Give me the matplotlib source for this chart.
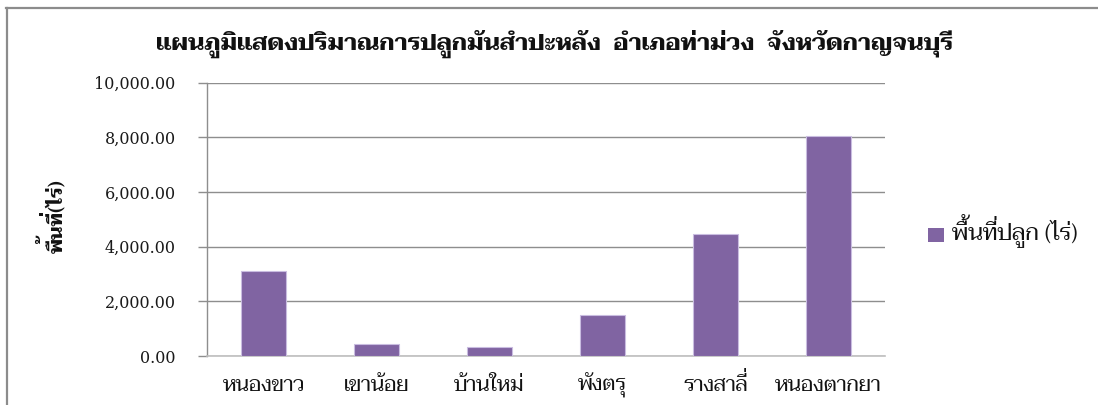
import math
import matplotlib
matplotlib.use("Agg")
import matplotlib.pyplot as plt
from matplotlib import font_manager
from matplotlib.font_manager import FontProperties
from matplotlib.ft2font import FT2Font
from matplotlib.ticker import FuncFormatter, MultipleLocator
from matplotlib.patches import Rectangle

# Planted cassava area by sub-district (rai)
categories = ["หนองขาว", "เขาน้อย", "บ้านใหม่", "พังตรุ", "รางสาลี่", "หนองตากยา"]
area_rai = [3130, 460, 350, 1490, 4470, 8050]
series_name = "พื้นที่ปลูก (ไร่)"
title_text = "แผนภูมิแสดงปริมาณการปลูกมันสำปะหลัง  อำเภอท่าม่วง  จังหวัดกาญจนบุรี"
ylabel_text = "พื้นที่(ไร่)"

W, H, DPI = 1098, 405, 100

installed = {f.name for f in font_manager.fontManager.ttflist}
THAI = next((n for n in ["Taviraj", "Trirong", "Sarabun", "Noto Serif Thai",
                         "Pridi", "Noto Sans Thai"] if n in installed), "DejaVu Sans")
thai_family = [THAI, "DejaVu Serif"]
num_family = ["DejaVu Serif"]

TONE_MARKS = "\u0e48\u0e49\u0e4a\u0e4b"
UPPER_VOWELS = "\u0e31\u0e34\u0e35\u0e36\u0e37\u0e47\u0e4d"


def pen_advance(text, size, weight):
    """Horizontal pen advance (pixels) of text in the Thai face."""
    path = font_manager.findfont(FontProperties(family=THAI, weight=weight))
    font = FT2Font(path)
    font.set_size(size, DPI)
    x = 0.0
    for ch in text:
        g = font.load_char(ord(ch))
        x += g.linearHoriAdvance / 65536
    return x


def thai_text(fig, x, y, s, size, weight="normal", ha="left", rotation=0,
              rise=0.0, color="#111111"):
    """Draw Thai text at (x, y) pixel baseline, stacking tone marks above
    upper vowels (which a non-shaping renderer would otherwise overlap)."""
    base, marks = "", []
    for ch in s:
        if ch in TONE_MARKS and base and base[-1] in UPPER_VOWELS:
            marks.append((base, ch))
        else:
            base += ch
    th = math.radians(rotation)
    ux, uy = math.cos(th), math.sin(th)
    nx, ny = -math.sin(th), math.cos(th)
    w = pen_advance(base, size, weight)
    shift = {"left": 0.0, "center": w / 2, "right": w}[ha]
    ax0, ay0 = x - shift * ux, y - shift * uy
    kw = dict(fontsize=size, fontweight=weight, family=thai_family,
              color=color, ha="left", va="baseline", rotation=rotation,
              rotation_mode="anchor")
    fig.text(ax0 / W, ay0 / H, base, **kw)
    sp = pen_advance(" ", size, weight)
    for prefix, mark in marks:
        # a leading space gives the lone mark a measurable width
        p = pen_advance(prefix, size, weight) - sp
        mx = ax0 + p * ux + rise * nx
        my = ay0 + p * uy + rise * ny
        fig.text(mx / W, my / H, " " + mark, **kw)


fig = plt.figure(figsize=(W / DPI, H / DPI), dpi=DPI)
fig.patch.set_facecolor("white")

# outer chart frame (top and left edges)
fig.add_artist(plt.Line2D([6 / W, 1.0], [1 - 8 / H, 1 - 8 / H],
                          transform=fig.transFigure, color="#8c8c8c", lw=1.6))
fig.add_artist(plt.Line2D([7 / W, 7 / W], [0.0, 1 - 8 / H],
                          transform=fig.transFigure, color="#8c8c8c", lw=1.6))

left, right = 207 / W, 885 / W
top, bottom = 1 - 82.5 / H, 1 - 356.2 / H
ax = fig.add_axes([left, bottom, right - left, top - bottom])

x = list(range(len(categories)))
bar_color = "#8064A2"
ax.bar(x, area_rai, width=0.4, color=bar_color, edgecolor="#c9bde0",
       linewidth=0.8, zorder=3)

ax.set_xlim(-0.5, len(categories) - 0.5)
ax.set_ylim(0, 10000)
ax.yaxis.set_major_locator(MultipleLocator(2000))
ax.yaxis.set_major_formatter(FuncFormatter(lambda v, p: f"{v:,.2f}"))
ax.grid(axis="y", color="#8e8e8e", linewidth=1.0, zorder=0)
ax.set_axisbelow(True)

for s in ["top", "right"]:
    ax.spines[s].set_visible(False)
ax.spines["left"].set_color("#8e8e8e")
ax.spines["bottom"].set_color("#bfbfbf")
ax.spines["left"].set_linewidth(1.0)
ax.spines["bottom"].set_linewidth(1.2)

ax.tick_params(axis="y", direction="out", length=6.5, width=1.0,
               color="#8e8e8e", pad=16, labelsize=11.5, labelcolor="#1a1a1a")
ax.tick_params(axis="x", length=0)
for lab in ax.get_yticklabels():
    lab.set_family(num_family)
ax.set_xticks(x)
ax.set_xticklabels([])

# category names under each bar
for i, name in enumerate(categories):
    cx, _ = ax.transData.transform((i, 0))
    thai_text(fig, cx, H - 391, name, size=15, ha="center", rise=5)

# title
thai_text(fig, 555, H - 50, title_text, size=17, weight="bold", ha="center")

# y-axis label, reading bottom to top
thai_text(fig, 62, H - 216, ylabel_text, size=14, weight="bold",
          ha="center", rotation=90, rise=5)

# legend
fig.add_artist(Rectangle((928 / W, 1 - 242 / H), 16 / W, 14 / H,
                         transform=fig.transFigure, facecolor=bar_color,
                         edgecolor="none"))
thai_text(fig, 952, H - 240, series_name, size=16.5, ha="left", rise=5)

fig.savefig("out.png", dpi=DPI, facecolor="white")
